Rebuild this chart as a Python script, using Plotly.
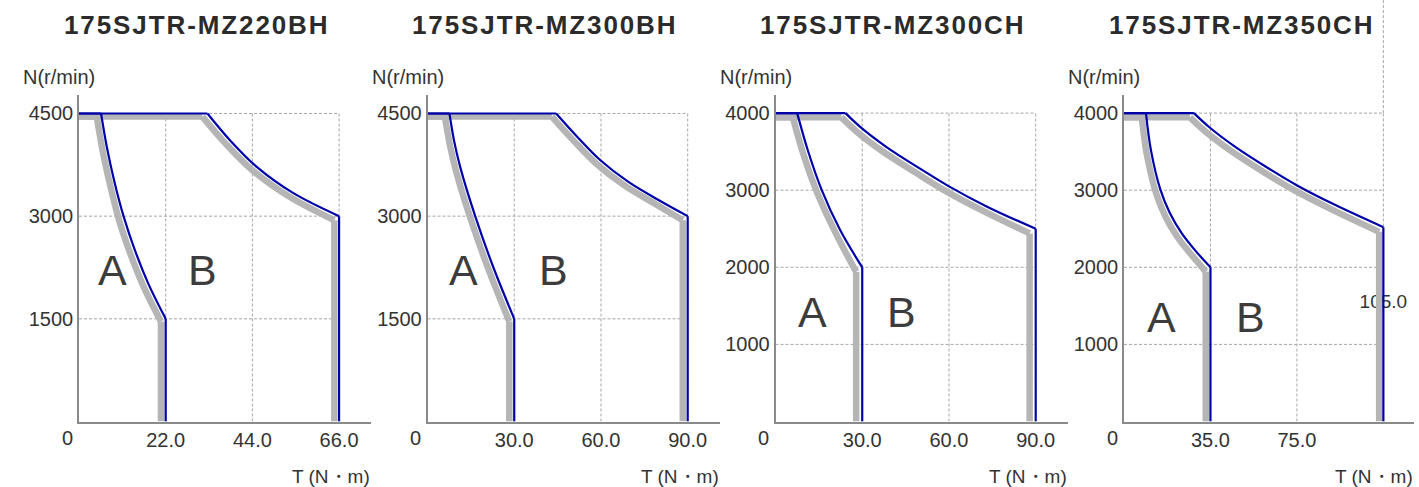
import plotly.graph_objects as go

W, H = 1419, 487

# ---------------- data ----------------
titles = ["175SJTR-MZ220BH", "175SJTR-MZ300BH", "175SJTR-MZ300CH", "175SJTR-MZ350CH"]
y_axis_title = "N(r/min)"
x_axis_title = "T (N・m)"
origin_label = "0"
region_labels = ["A", "B"]

# panel 1 : 175SJTR-MZ220BH
p1_xticks = [22, 44, 66]
p1_xtext = ["22.0", "44.0", "66.0"]
p1_yticks = [1500, 3000, 4500]
p1_blueA_x = [0, 5.6, 7.1, 9.0, 11.3, 14.2, 17.7, 22, 22]
p1_blueA_y = [4500, 4500, 4000, 3500, 3000, 2500, 2000, 1500, 0]
p1_grayA_x = [0, 4.5, 6.0, 7.9, 10.1, 13.0, 16.5, 20.8, 20.8]
p1_grayA_y = [4455, 4455, 3955, 3455, 2955, 2455, 1955, 1460, 0]
p1_blueB_x = [0, 32.6, 38.3, 45.1, 54.3, 66, 66]
p1_blueB_y = [4500, 4500, 4110, 3720, 3340, 3000, 0]
p1_grayB_x = [0, 31.3, 37.2, 44.0, 53.2, 64.8, 64.8]
p1_grayB_y = [4455, 4455, 4060, 3670, 3290, 2940, 0]
p1_label_pos = [(8.45, 2210), (31.3, 2210)]

# panel 2 : 175SJTR-MZ300BH
p2_xticks = [30, 60, 90]
p2_xtext = ["30.0", "60.0", "90.0"]
p2_yticks = [1500, 3000, 4500]
p2_blueA_x = [0, 7.6, 9.2, 11.3, 16.5, 22.8, 30, 30]
p2_blueA_y = [4500, 4500, 4100, 3720, 3000, 2250, 1500, 0]
p2_grayA_x = [0, 6.0, 7.7, 9.8, 15.0, 21.3, 28.3, 28.3]
p2_grayA_y = [4455, 4455, 4050, 3670, 2950, 2200, 1460, 0]
p2_blueB_x = [0, 44.5, 52.0, 59.7, 69.5, 79.9, 90, 90]
p2_blueB_y = [4500, 4500, 4150, 3820, 3500, 3236, 3000, 0]
p2_grayB_x = [0, 43.0, 50.6, 58.3, 68.1, 78.5, 88.3, 88.3]
p2_grayB_y = [4455, 4455, 4100, 3770, 3450, 3186, 2940, 0]
p2_label_pos = [(12.4, 2210), (43.5, 2210)]

# panel 3 : 175SJTR-MZ300CH
p3_xticks = [30, 60, 90]
p3_xtext = ["30.0", "60.0", "90.0"]
p3_yticks = [1000, 2000, 3000, 4000]
p3_blueA_x = [0, 7.5, 11.2, 16.0, 22.4, 30, 30]
p3_blueA_y = [4000, 4000, 3515, 3000, 2480, 2000, 0]
p3_grayA_x = [0, 6.0, 9.7, 14.6, 21.0, 27.9, 27.9]
p3_grayA_y = [3945, 3945, 3460, 2950, 2430, 1940, 0]
p3_blueB_x = [0, 24.2, 29.8, 38.4, 50.0, 60.0, 73.0, 90, 90]
p3_blueB_y = [4000, 4000, 3805, 3560, 3280, 3050, 2790, 2500, 0]
p3_grayB_x = [0, 22.8, 28.4, 37.0, 48.6, 58.6, 71.6, 87.9, 87.9]
p3_grayB_y = [3945, 3945, 3750, 3505, 3225, 2995, 2735, 2440, 0]
p3_label_pos = [(12.7, 1420), (43.7, 1420)]

# panel 4 : 175SJTR-MZ350CH
p4_xticks = [35, 70]
p4_xtext = ["35.0", "75.0"]
p4_xgrid = [35, 70, 105]
p4_yticks = [1000, 2000, 3000, 4000]
p4_blueA_x = [0, 8.9, 10.9, 14.8, 18.6, 23.4, 28.8, 35, 35]
p4_blueA_y = [4000, 4000, 3520, 3000, 2700, 2440, 2220, 2000, 0]
p4_grayA_x = [0, 7.2, 9.2, 13.1, 16.9, 21.7, 27.1, 33.1, 33.1]
p4_grayA_y = [3945, 3945, 3470, 2950, 2650, 2390, 2170, 1945, 0]
p4_blueB_x = [0, 28.3, 34.8, 44.9, 58.4, 69.9, 85.4, 105, 105]
p4_blueB_y = [4000, 4000, 3810, 3565, 3285, 3065, 2810, 2520, 0]
p4_grayB_x = [0, 26.7, 33.2, 43.3, 56.8, 68.3, 83.8, 103.3, 103.3]
p4_grayB_y = [3945, 3945, 3755, 3510, 3230, 3010, 2755, 2460, 0]
p4_label_pos = [(15.3, 1360), (51.3, 1360)]
p4_extra_text = "105.0"
p4_extra_pos = (105, 1540)

# ---------------- style / layout ----------------
BLUE = "#0000aa"
GRAY = "#b5b5b5"
GRID = "#a6a6a6"
AXIS = "#8a8a8a"
TXT = "#333333"
FONT = "Liberation Sans, Arial, sans-serif"

panels = [
    dict(title=titles[0], xt=p1_xticks, xl=p1_xtext, xg=p1_xticks, yt=p1_yticks,
         curves=[(p1_grayA_x, p1_grayA_y), (p1_grayB_x, p1_grayB_y), (p1_blueA_x, p1_blueA_y), (p1_blueB_x, p1_blueB_y)],
         lab=p1_label_pos, dom=(79, 371), xmax=74.1, ymax=4770),
    dict(title=titles[1], xt=p2_xticks, xl=p2_xtext, xg=p2_xticks, yt=p2_yticks,
         curves=[(p2_grayA_x, p2_grayA_y), (p2_grayB_x, p2_grayB_y), (p2_blueA_x, p2_blueA_y), (p2_blueB_x, p2_blueB_y)],
         lab=p2_label_pos, dom=(427.5, 719.5), xmax=101.0, ymax=4770),
    dict(title=titles[2], xt=p3_xticks, xl=p3_xtext, xg=p3_xticks, yt=p3_yticks,
         curves=[(p3_grayA_x, p3_grayA_y), (p3_grayB_x, p3_grayB_y), (p3_blueA_x, p3_blueA_y), (p3_blueB_x, p3_blueB_y)],
         lab=p3_label_pos, dom=(775.5, 1067.5), xmax=101.0, ymax=4235),
    dict(title=titles[3], xt=p4_xticks, xl=p4_xtext, xg=p4_xgrid, yt=p4_yticks,
         curves=[(p4_grayA_x, p4_grayA_y), (p4_grayB_x, p4_grayB_y), (p4_blueA_x, p4_blueA_y), (p4_blueB_x, p4_blueB_y)],
         lab=p4_label_pos, dom=(1124, 1414), xmax=117.4, ymax=4235),
]

Y_BOT, Y_TOP = 421.5, 95.0
ydom = [(H - Y_BOT) / H, (H - Y_TOP) / H]

fig = go.Figure()
layout = dict(width=W, height=H, margin=dict(l=0, r=0, t=0, b=0),
              paper_bgcolor="white", plot_bgcolor="white", showlegend=False,
              font=dict(family=FONT, color=TXT, size=20))
shapes = []
annotations = []

for i, p in enumerate(panels):
    n = i + 1
    sfx = "" if n == 1 else str(n)
    xa, ya = "x" + sfx, "y" + sfx

    layout["xaxis" + sfx] = dict(
        domain=[p["dom"][0] / W, p["dom"][1] / W], range=[0, p["xmax"]], anchor=ya,
        showline=True, linecolor=AXIS, linewidth=1.5, showgrid=False, zeroline=False,
        tickmode="array", tickvals=p["xt"], ticktext=p["xl"], ticks="",
        tickfont=dict(size=20, color=TXT, family=FONT), fixedrange=True)
    layout["yaxis" + sfx] = dict(
        domain=ydom, range=[0, p["ymax"]], anchor=xa,
        showline=True, linecolor=AXIS, linewidth=1.5, showgrid=False, zeroline=False,
        tickmode="array", tickvals=p["yt"], ticktext=[str(v) for v in p["yt"]], ticks="",
        tickfont=dict(size=20, color=TXT, family=FONT), fixedrange=True)

    xg_max = max(p["xg"])
    yg_max = max(p["yt"])
    for gx in p["xg"]:
        shapes.append(dict(type="line", xref=xa, yref=ya, x0=gx, x1=gx, y0=0, y1=yg_max,
                           line=dict(color=GRID, width=1, dash="3px,2px"), layer="below"))
    for gy in p["yt"]:
        shapes.append(dict(type="line", xref=xa, yref=ya, x0=0, x1=xg_max, y0=gy, y1=gy,
                           line=dict(color=GRID, width=1, dash="3px,2px"), layer="below"))

    if n == 4:
        # text drawn under the curves
        fig.add_trace(go.Scatter(x=[p4_extra_pos[0]], y=[p4_extra_pos[1]], mode="text",
                                 text=[p4_extra_text], textfont=dict(size=19, color=TXT, family=FONT),
                                 xaxis=xa, yaxis=ya, hoverinfo="skip", cliponaxis=False))
        # dotted grid line continues up to the top of the picture
        frac = ydom[0] + (ydom[1] - ydom[0]) * yg_max / p["ymax"]
        shapes.append(dict(type="line", xref=xa, yref="paper", x0=xg_max, x1=xg_max, y0=frac, y1=1.0,
                           line=dict(color=GRID, width=1, dash="3px,2px"), layer="below"))

    for k, (cx, cy) in enumerate(p["curves"]):
        color = GRAY if k < 2 else BLUE
        width = 6.5 if k < 2 else 2.2
        fig.add_trace(go.Scatter(x=[cx[0], cx[1], None, cx[-2], cx[-1]],
                                 y=[cy[0], cy[1], None, cy[-2], cy[-1]],
                                 mode="lines", line=dict(color=color, width=width),
                                 xaxis=xa, yaxis=ya, hoverinfo="skip"))
        fig.add_trace(go.Scatter(x=cx[1:-1], y=cy[1:-1], mode="lines",
                                 line=dict(color=color, width=width, shape="spline", smoothing=1),
                                 xaxis=xa, yaxis=ya, hoverinfo="skip"))

    # region labels
    for lbl, (lx, ly) in zip(region_labels, p["lab"]):
        annotations.append(dict(text=lbl, x=lx, y=ly, xref=xa, yref=ya, showarrow=False,
                                font=dict(size=43, color="#3c3c3c", family=FONT),
                                xanchor="center", yanchor="middle"))
    # origin label
    annotations.append(dict(text=origin_label, x=0, y=0, xref=xa, yref=ya, showarrow=False,
                            xshift=-12, yshift=-16, font=dict(size=20, color=TXT, family=FONT),
                            xanchor="center", yanchor="middle"))
    # y-axis title
    annotations.append(dict(text=y_axis_title, x=0, y=(H - 77) / H, xref=xa + " domain", yref="paper",
                            xshift=-58, showarrow=False, xanchor="left", yanchor="middle",
                            font=dict(size=20, color=TXT, family=FONT)))
    # x-axis title
    annotations.append(dict(text=x_axis_title, x=1, y=(H - 476) / H, xref=xa + " domain", yref="paper",
                            xshift=1, showarrow=False, xanchor="right", yanchor="middle",
                            font=dict(size=19, color=TXT, family=FONT)))
    # panel title
    annotations.append(dict(text='<span style="letter-spacing:1.9px">' + p["title"] + "</span>",
                            x=0, y=(H - 24.5) / H, xref=xa + " domain", yref="paper",
                            xshift=117, showarrow=False, xanchor="center", yanchor="middle",
                            font=dict(size=26, color="#2b2b2b", family=FONT, weight="bold")))

layout["shapes"] = shapes
layout["annotations"] = annotations
fig.update_layout(**layout)
fig.write_html("out.html", config={"displayModeBar": False},
               post_script="document.body.style.margin='0px';document.body.style.overflow='hidden';")
